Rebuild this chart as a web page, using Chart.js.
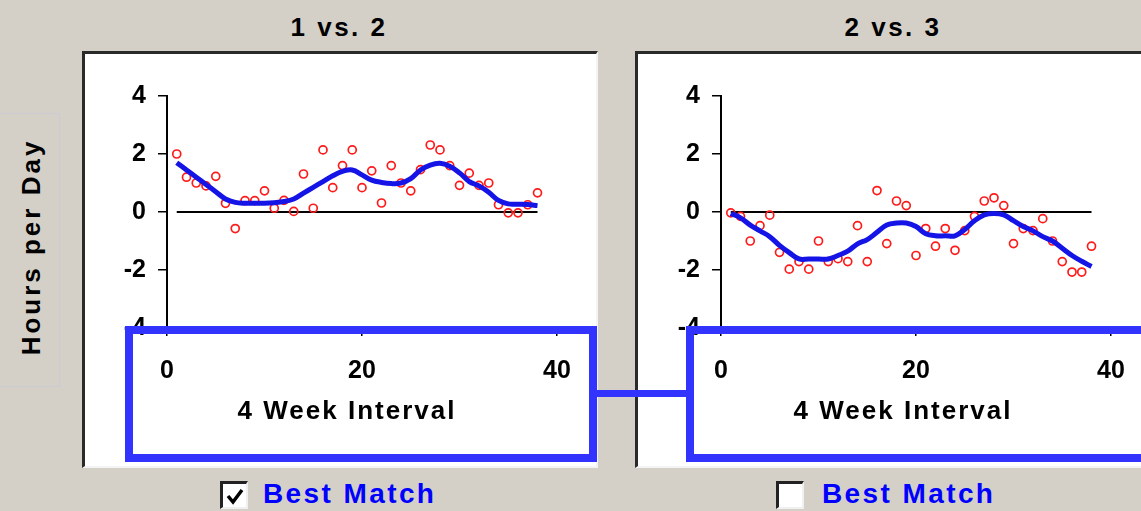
<!DOCTYPE html>
<html>
<head>
<meta charset="utf-8">
<script src="https://cdn.jsdelivr.net/npm/chart.js@4.4.1/dist/chart.umd.min.js"></script>
<style>
  html, body { margin: 0; padding: 0; }
  body {
    width: 1141px; height: 511px; overflow: hidden; position: relative;
    background: #d4d0c8; font-family: "Liberation Sans", Arial, sans-serif; font-weight: bold;
  }
  .title { position: absolute; top: 12px; font-size: 26px; letter-spacing: 2.5px; color: #000; transform: translateX(-50%); white-space: nowrap; }
  .panel {
    position: absolute; top: 51px; height: 417px; box-sizing: border-box; background: #fff;
    border-top: 3px solid #2a2a2a; border-left: 3px solid #2a2a2a;
    border-right: 2px solid #f4f4f4; border-bottom: 2px solid #f4f4f4;
  }
  canvas.plot { position: absolute; top: 54px; }
  .xtitle { position: absolute; top: 395px; font-size: 26px; letter-spacing: 2px; transform: translateX(-50%); white-space: nowrap; color: #000; }
  .ybox { position: absolute; left: 0; top: 113px; width: 60px; height: 274px; box-sizing: border-box; border: 1px solid #c9ccd2; border-left: none; }
  .ylabel {
    position: absolute; left: 31px; top: 247px; font-size: 26px; letter-spacing: 3px; white-space: nowrap;
    transform: translate(-50%, -50%) rotate(-90deg);
  }
  .hl { position: absolute; border: 8px solid #3333ff; box-sizing: border-box; z-index: 5; }
  .bar { position: absolute; background: #3333ff; z-index: 5; }
  .cb {
    position: absolute; top: 481px; width: 28px; height: 28px; box-sizing: border-box; background: #fff;
    border-top: 3px solid #222; border-left: 3px solid #222; border-right: 2px solid #f0f0f0; border-bottom: 2px solid #f0f0f0;
  }
  .cb svg { position: absolute; left: 2px; top: 3px; }
  .best { position: absolute; top: 478px; font-size: 28px; letter-spacing: 2.4px; color: #0000ff; white-space: nowrap; }
</style>
</head>
<body>
<div class="title" style="left:339px">1 vs. 2</div>
<div class="title" style="left:893px">2 vs. 3</div>

<div class="ybox"></div>
<div class="ylabel">Hours per Day</div>

<div class="panel" style="left:82px; width:516px"></div>
<div class="panel" style="left:635px; width:520px"></div>

<canvas id="chart12" class="plot" width="512" height="410" style="left:84px"></canvas>
<canvas id="chart23" class="plot" width="512" height="410" style="left:638px"></canvas>

<div class="xtitle" style="left:347px">4 Week Interval</div>
<div class="xtitle" style="left:903px">4 Week Interval</div>

<div class="hl" style="left:125px; top:326px; width:472px; height:136px"></div>
<div class="bar" style="left:597px; top:390px; width:90px; height:7px"></div>
<div class="hl" style="left:686px; top:326px; width:470px; height:136px"></div>

<div class="cb" style="left:220px">
  <svg width="20" height="20" viewBox="0 0 20 20"><polyline points="3,9 8,15 17,3" fill="none" stroke="#000" stroke-width="3.5"/></svg>
</div>
<div class="best" style="left:263px">Best Match</div>
<div class="cb" style="left:776px"></div>
<div class="best" style="left:822px">Best Match</div>

<script>
const intervals = [1, 2, 3, 4, 5, 6, 7, 8, 9, 10, 11, 12, 13, 14, 15, 16, 17, 18, 19,
    20, 21, 22, 23, 24, 25, 26, 27, 28, 29, 30, 31, 32, 33, 34, 35, 36, 37, 38];

const diff12 = [2.0, 1.2, 1.0, 0.9, 1.23, 0.3, -0.57, 0.39, 0.39, 0.73, 0.13, 0.4, 0.02, 1.31,
    0.13, 2.14, 0.84, 1.6, 2.14, 0.84, 1.42, 0.31, 1.6, 1.0, 0.73, 1.46, 2.31, 2.14, 1.6,
    0.92, 1.34, 0.92, 1.0, 0.25, -0.03, -0.03, 0.25, 0.66];
const fit12 = [1.7, 1.45, 1.2, 0.95, 0.7, 0.45, 0.33, 0.3, 0.3, 0.3, 0.32, 0.36, 0.45, 0.65,
    0.85, 1.05, 1.25, 1.4, 1.45, 1.28, 1.1, 1.02, 0.98, 1.0, 1.15, 1.45, 1.62, 1.68, 1.58,
    1.35, 1.05, 0.9, 0.68, 0.4, 0.28, 0.27, 0.26, 0.22];

const diff23 = [-0.03, -0.15, -1.0, -0.47, -0.11, -1.39, -1.97, -1.71, -1.97, -1.0, -1.71,
    -1.61, -1.71, -0.47, -1.71, 0.74, -1.09, 0.38, 0.22, -1.5, -0.57, -1.18, -0.57, -1.32,
    -0.64, -0.15, 0.38, 0.49, 0.22, -1.09, -0.57, -0.64, -0.23, -1.0, -1.71, -2.07, -2.07, -1.18];
const fit23 = [-0.05, -0.2, -0.45, -0.65, -0.85, -1.15, -1.4, -1.62, -1.62, -1.62, -1.62,
    -1.5, -1.35, -1.1, -0.95, -0.7, -0.45, -0.38, -0.38, -0.5, -0.75, -0.82, -0.82, -0.82,
    -0.6, -0.3, -0.1, -0.05, -0.1, -0.3, -0.5, -0.65, -0.85, -1.0, -1.25, -1.5, -1.7, -1.88];

const xTicks = [0, 20, 40];
const yTicks = [4, 2, 0, -2, -4];

const tickFont = { family: '"Liberation Sans", Arial, sans-serif', size: 25, weight: 'bold' };

function pts(values) {
    return values.map((v, i) => ({ x: intervals[i], y: v }));
}

function makeChart(id, diffs, fit) {
    const ctx = document.getElementById(id).getContext('2d');
    return new Chart(ctx, {
        type: 'scatter',
        data: {
            datasets: [
                {
                    type: 'line',
                    data: pts(fit),
                    borderColor: '#1414e6',
                    borderWidth: 5,
                    pointRadius: 0,
                    tension: 0.4,
                    fill: false,
                    order: 0
                },
                {
                    data: pts(diffs),
                    borderColor: '#ff1a1a',
                    backgroundColor: 'rgba(255,255,255,0)',
                    borderWidth: 1.7,
                    pointRadius: 4,
                    order: 1
                },
                {
                    type: 'line',
                    data: [{ x: intervals[0], y: 0 }, { x: intervals[intervals.length - 1], y: 0 }],
                    borderColor: '#000',
                    borderWidth: 2,
                    pointRadius: 0,
                    order: 2
                }
            ]
        },
        options: {
            responsive: false,
            animation: false,
            devicePixelRatio: 1,
            layout: { padding: { left: 0, top: 42, right: 39, bottom: 0 } },
            plugins: { legend: { display: false }, tooltip: { enabled: false } },
            scales: {
                x: {
                    type: 'linear',
                    min: 0, max: 40,
                    afterFit: s => { s.height = 136; },
                    afterBuildTicks: s => { s.ticks = xTicks.map(v => ({ value: v })); },
                    border: { color: '#a0a0a0', width: 2 },
                    grid: { drawOnChartArea: false, drawTicks: true, tickLength: 8, color: '#000', lineWidth: 1.5 },
                    ticks: { color: '#000', font: tickFont, padding: 20, maxRotation: 0 }
                },
                y: {
                    type: 'linear',
                    min: -4, max: 4,
                    afterFit: s => { s.width = 83; },
                    afterBuildTicks: s => { s.ticks = yTicks.map(v => ({ value: v })); },
                    border: { color: '#000', width: 2 },
                    grid: { drawOnChartArea: false, drawTicks: true, tickLength: 9, color: '#000', lineWidth: 1.5 },
                    ticks: { color: '#000', font: tickFont, padding: 12 }
                }
            }
        }
    });
}

makeChart('chart12', diff12, fit12);
makeChart('chart23', diff23, fit23);
</script>
</body>
</html>
